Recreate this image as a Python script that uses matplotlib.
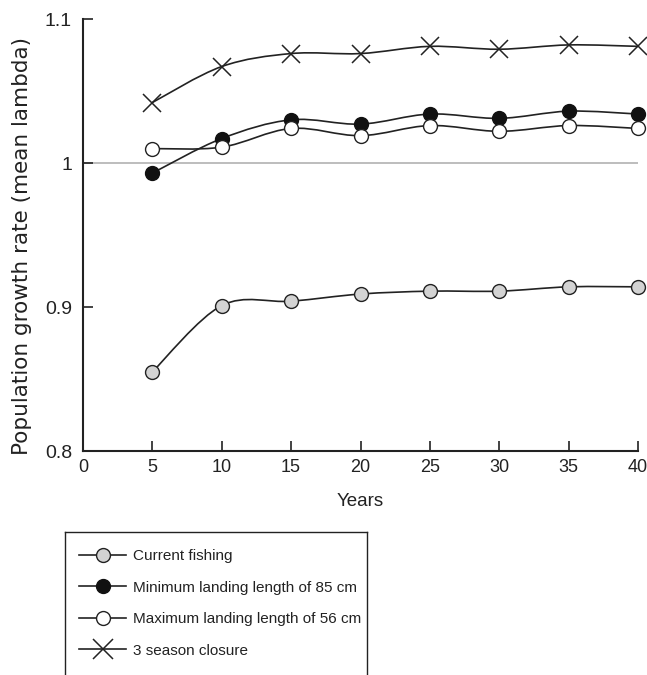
import matplotlib
matplotlib.use("Agg")
import matplotlib.pyplot as plt
from matplotlib.path import Path
from matplotlib.patches import PathPatch
from matplotlib.lines import Line2D
import numpy as np

plt.rcParams['font.family'] = ['Liberation Sans', 'DejaVu Sans']

years = [5, 10, 15, 20, 25, 30, 35, 40]
current_fishing = [0.855, 0.901, 0.904, 0.909, 0.911, 0.911, 0.914, 0.914]
min_landing_85 = [0.993, 1.017, 1.030, 1.027, 1.034, 1.031, 1.036, 1.034]
max_landing_56 = [1.010, 1.011, 1.024, 1.019, 1.026, 1.022, 1.026, 1.024]
season_closure = [1.042, 1.067, 1.076, 1.076, 1.081, 1.079, 1.082, 1.081]
labels = ["Current fishing", "Minimum landing length of 85 cm",
          "Maximum landing length of 56 cm", "3 season closure"]
xticks = [0, 5, 10, 15, 20, 25, 30, 35, 40]
yticks = [0.8, 0.9, 1.0, 1.1]
ytick_labels = ["0.8", "0.9", "1", "1.1"]


def smooth_path(x, y, tension=1.0 / 6):
    x = np.asarray(x, float)
    y = np.asarray(y, float)
    verts = [(x[0], y[0])]
    codes = [Path.MOVETO]
    n = len(x)
    for i in range(n - 1):
        p0 = np.array([x[max(i - 1, 0)], y[max(i - 1, 0)]])
        p1 = np.array([x[i], y[i]])
        p2 = np.array([x[i + 1], y[i + 1]])
        p3 = np.array([x[min(i + 2, n - 1)], y[min(i + 2, n - 1)]])
        c1 = p1 + (p2 - p0) * tension
        c2 = p2 - (p3 - p1) * tension
        verts += [tuple(c1), tuple(c2), tuple(p2)]
        codes += [Path.CURVE4] * 3
    return Path(verts, codes)


fig = plt.figure(figsize=(6.47, 6.75), dpi=100)
ax = fig.add_axes([83 / 647, 1 - 451 / 675, (638 - 83) / 647, (451 - 19) / 675])

ax.axhline(1.0, color='#b8b8b8', lw=1.3, zorder=1)

series = [
    (current_fishing, dict(marker='o', mfc='#d3d3d3', mec='#222222', ms=10, mew=1.0)),
    (min_landing_85, dict(marker='o', mfc='#111111', mec='#111111', ms=10, mew=1.0)),
    (max_landing_56, dict(marker='o', mfc='white', mec='#222222', ms=10, mew=1.0)),
    (season_closure, dict(marker='x', mfc='none', mec='#222222', ms=13, mew=1.1)),
]
handles = []
for (vals, st), lab in zip(series, labels):
    ax.add_patch(PathPatch(smooth_path(years, vals), fc='none', ec='#222222',
                           lw=1.2, zorder=2, clip_on=False))
    ax.plot(years, vals, ls='none', zorder=3, clip_on=False, **st)
    hst = dict(st)
    if hst['marker'] == 'x':
        hst['ms'] = 15
    handles.append(Line2D([], [], color='#222222', lw=1.2, label=lab, **hst))

ax.set_xlim(0, 40)
ax.set_ylim(0.8, 1.1)
ax.set_xticks(xticks)
ax.set_yticks(yticks)
ax.set_yticklabels(ytick_labels)
for s in ['top', 'right']:
    ax.spines[s].set_visible(False)
for s in ['left', 'bottom']:
    ax.spines[s].set_linewidth(1.5)
    ax.spines[s].set_color('#222222')
ax.tick_params(direction='in', length=7, width=1.2, colors='#222222')
ax.tick_params(axis='x', labelsize=13, pad=6)
ax.tick_params(axis='y', labelsize=14, pad=8)
ax.xaxis.get_major_ticks()[0].tick1line.set_visible(False)
ax.set_xlabel("Years", fontsize=13.5, color='#222222', labelpad=12)
ax.set_ylabel("Population growth rate (mean lambda)", fontsize=15.5, color='#222222',
              family=['DejaVu Sans'])
ax.yaxis.set_label_coords((32 - 83) / 555, (451 - 246) / 432)

# legend frame (open at the bottom, cut by figure edge)
top = 1 - 532 / 675
lx0, lx1 = 65 / 647, 367 / 647
for xs, ys in [([lx0, lx0], [0, top]), ([lx0, lx1], [top, top]), ([lx1, lx1], [0, top])]:
    fig.add_artist(Line2D(xs, ys, color='#222222', lw=1.0, transform=fig.transFigure))

fig.legend(handles=handles, loc='upper left', bbox_to_anchor=(79 / 647, 1 - 549 / 675),
           frameon=False, fontsize=11, handlelength=3.1, handletextpad=0.45,
           labelspacing=1.15, borderaxespad=0, borderpad=0, labelcolor='#222222')

fig.savefig("out.png", dpi=100)
